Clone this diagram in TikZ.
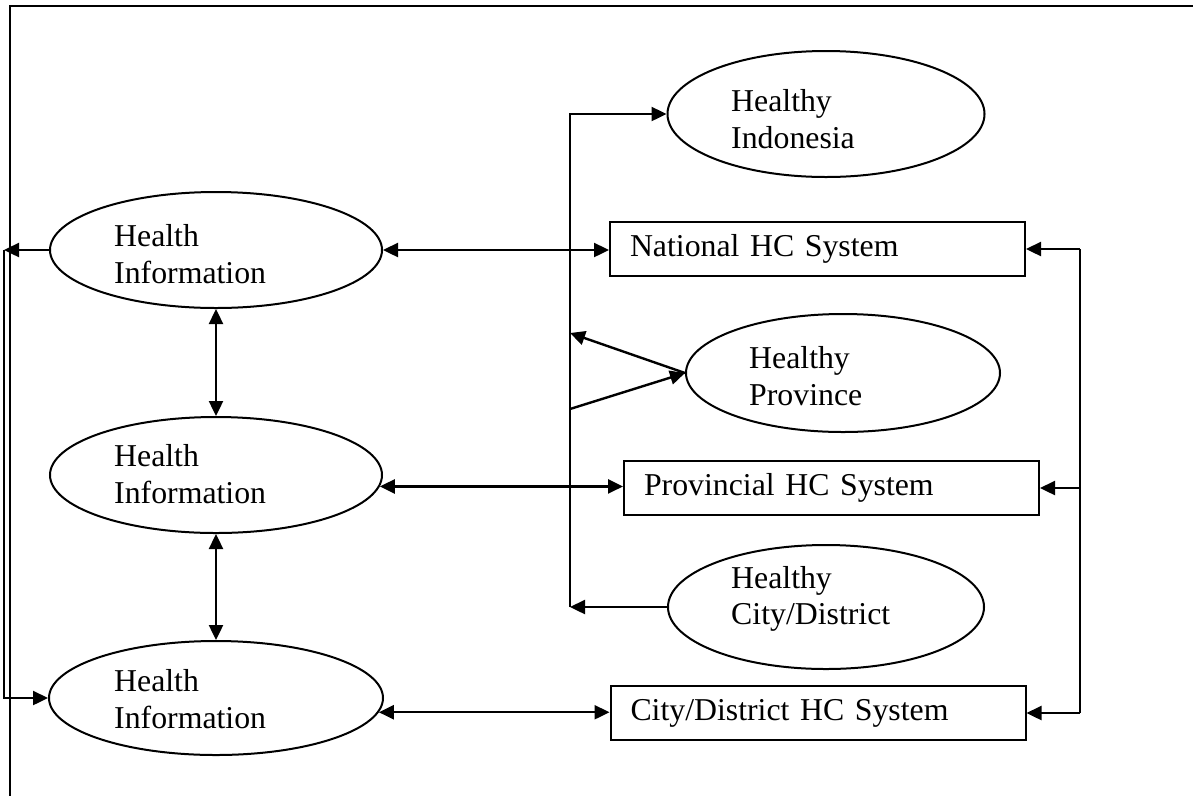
\documentclass[tikz,border=0pt]{standalone}
\usepackage{fontspec}
\setmainfont{Liberation Serif}
\usetikzlibrary{arrows.meta,shapes.geometric}
\begin{document}
\begin{tikzpicture}[x=1pt,y=-1pt,
  line width=2.4pt,
  tip/.style={-{Triangle[length=15pt,width=14pt]}},
  dtip/.style={{Triangle[length=15pt,width=14pt]}-{Triangle[length=15pt,width=14pt]}},
  ell/.style={draw,ellipse,line width=2pt,inner sep=0pt},
  hbox/.style={draw,rectangle,line width=2pt,inner xsep=20pt,inner ysep=0pt,text width=375pt,align=left,minimum height=54pt,font=\fontsize{31.8}{36.5}\selectfont},
  lbl/.style={anchor=west,align=left,inner sep=0pt,font=\fontsize{31.8}{36.5}\selectfont}]
\useasboundingbox (0,0) rectangle (1193,796);
% frame
\coordinate (ftl) at (10,6);
\coordinate (ftr) at (1193,6);
\coordinate (fbl) at (10,796);
\draw[line width=2.8pt] (ftr) -- (ftl) -- (fbl);
% left ellipses
\node[ell,minimum width=332pt,minimum height=116pt] (e1) at (216,250) {};
\node[lbl] (t1) at (113,254) {Health\\Information};
\node[ell,minimum width=332pt,minimum height=116pt] (e2) at (216,475) {};
\node[lbl] (t2) at (113,474) {Health\\Information};
\node[ell,minimum width=334pt,minimum height=114pt] (e3) at (216,698) {};
\node[lbl] (t3) at (113,699) {Health\\Information};
% right ellipses
\node[ell,minimum width=317pt,minimum height=126pt] (hi) at (826,114) {};
\node[lbl] (thi) at (730,119) {Healthy\\Indonesia};
\node[ell,minimum width=314pt,minimum height=118pt] (hp) at (843,373) {};
\node[lbl] (thp) at (748,376) {Healthy\\Province};
\node[ell,minimum width=316pt,minimum height=124pt] (hc) at (826,607) {};
\node[lbl] (thc) at (730,599) {Healthy\\City/District};
% boxes
\node[hbox] (nat) at (817.5,249) {National HC System};
\node[hbox] (prov) at (831.5,488) {Provincial HC System};
\node[hbox] (city) at (818,713) {City/District HC System};
% left loop
\coordinate (lt) at (4,250);
\draw[tip] (e1.west) -- (lt);
\draw[tip] (lt) |- (e3.west);
% vertical double arrows
\draw[dtip] (e1.south) -- (e2.north);
\draw[dtip] (e2.south) -- (e3.north);
% horizontal double arrows
\draw[dtip] (e1.east) -- (e1.east -| nat.west);
\draw[dtip] (e2.-4.6) -- (e2.-4.6 -| prov.west);
\draw[dtip] (e3.-5.2) -- (e3.-5.2 -| city.west);
% spine
\coordinate (sb) at (570,607);
\coordinate (sp1) at (570,333);
\coordinate (sp2) at (570,409);
\draw[tip] (sb) |- (hi.west);
\draw[tip] (hp.west) -- (sp1);
\draw[tip] (sp2) -- (hp.west);
\draw[tip] (hc.west) -- (sb);
% right loop
\coordinate (rt) at (1080,249);
\coordinate (rm) at (1080,488);
\coordinate (rb) at (1080,713);
\draw (rt) -- (rb);
\draw[tip] (rt) -- (nat.east);
\draw[tip] (rm) -- (prov.east);
\draw[tip] (rb) -- (city.east);
\end{tikzpicture}
\end{document}
